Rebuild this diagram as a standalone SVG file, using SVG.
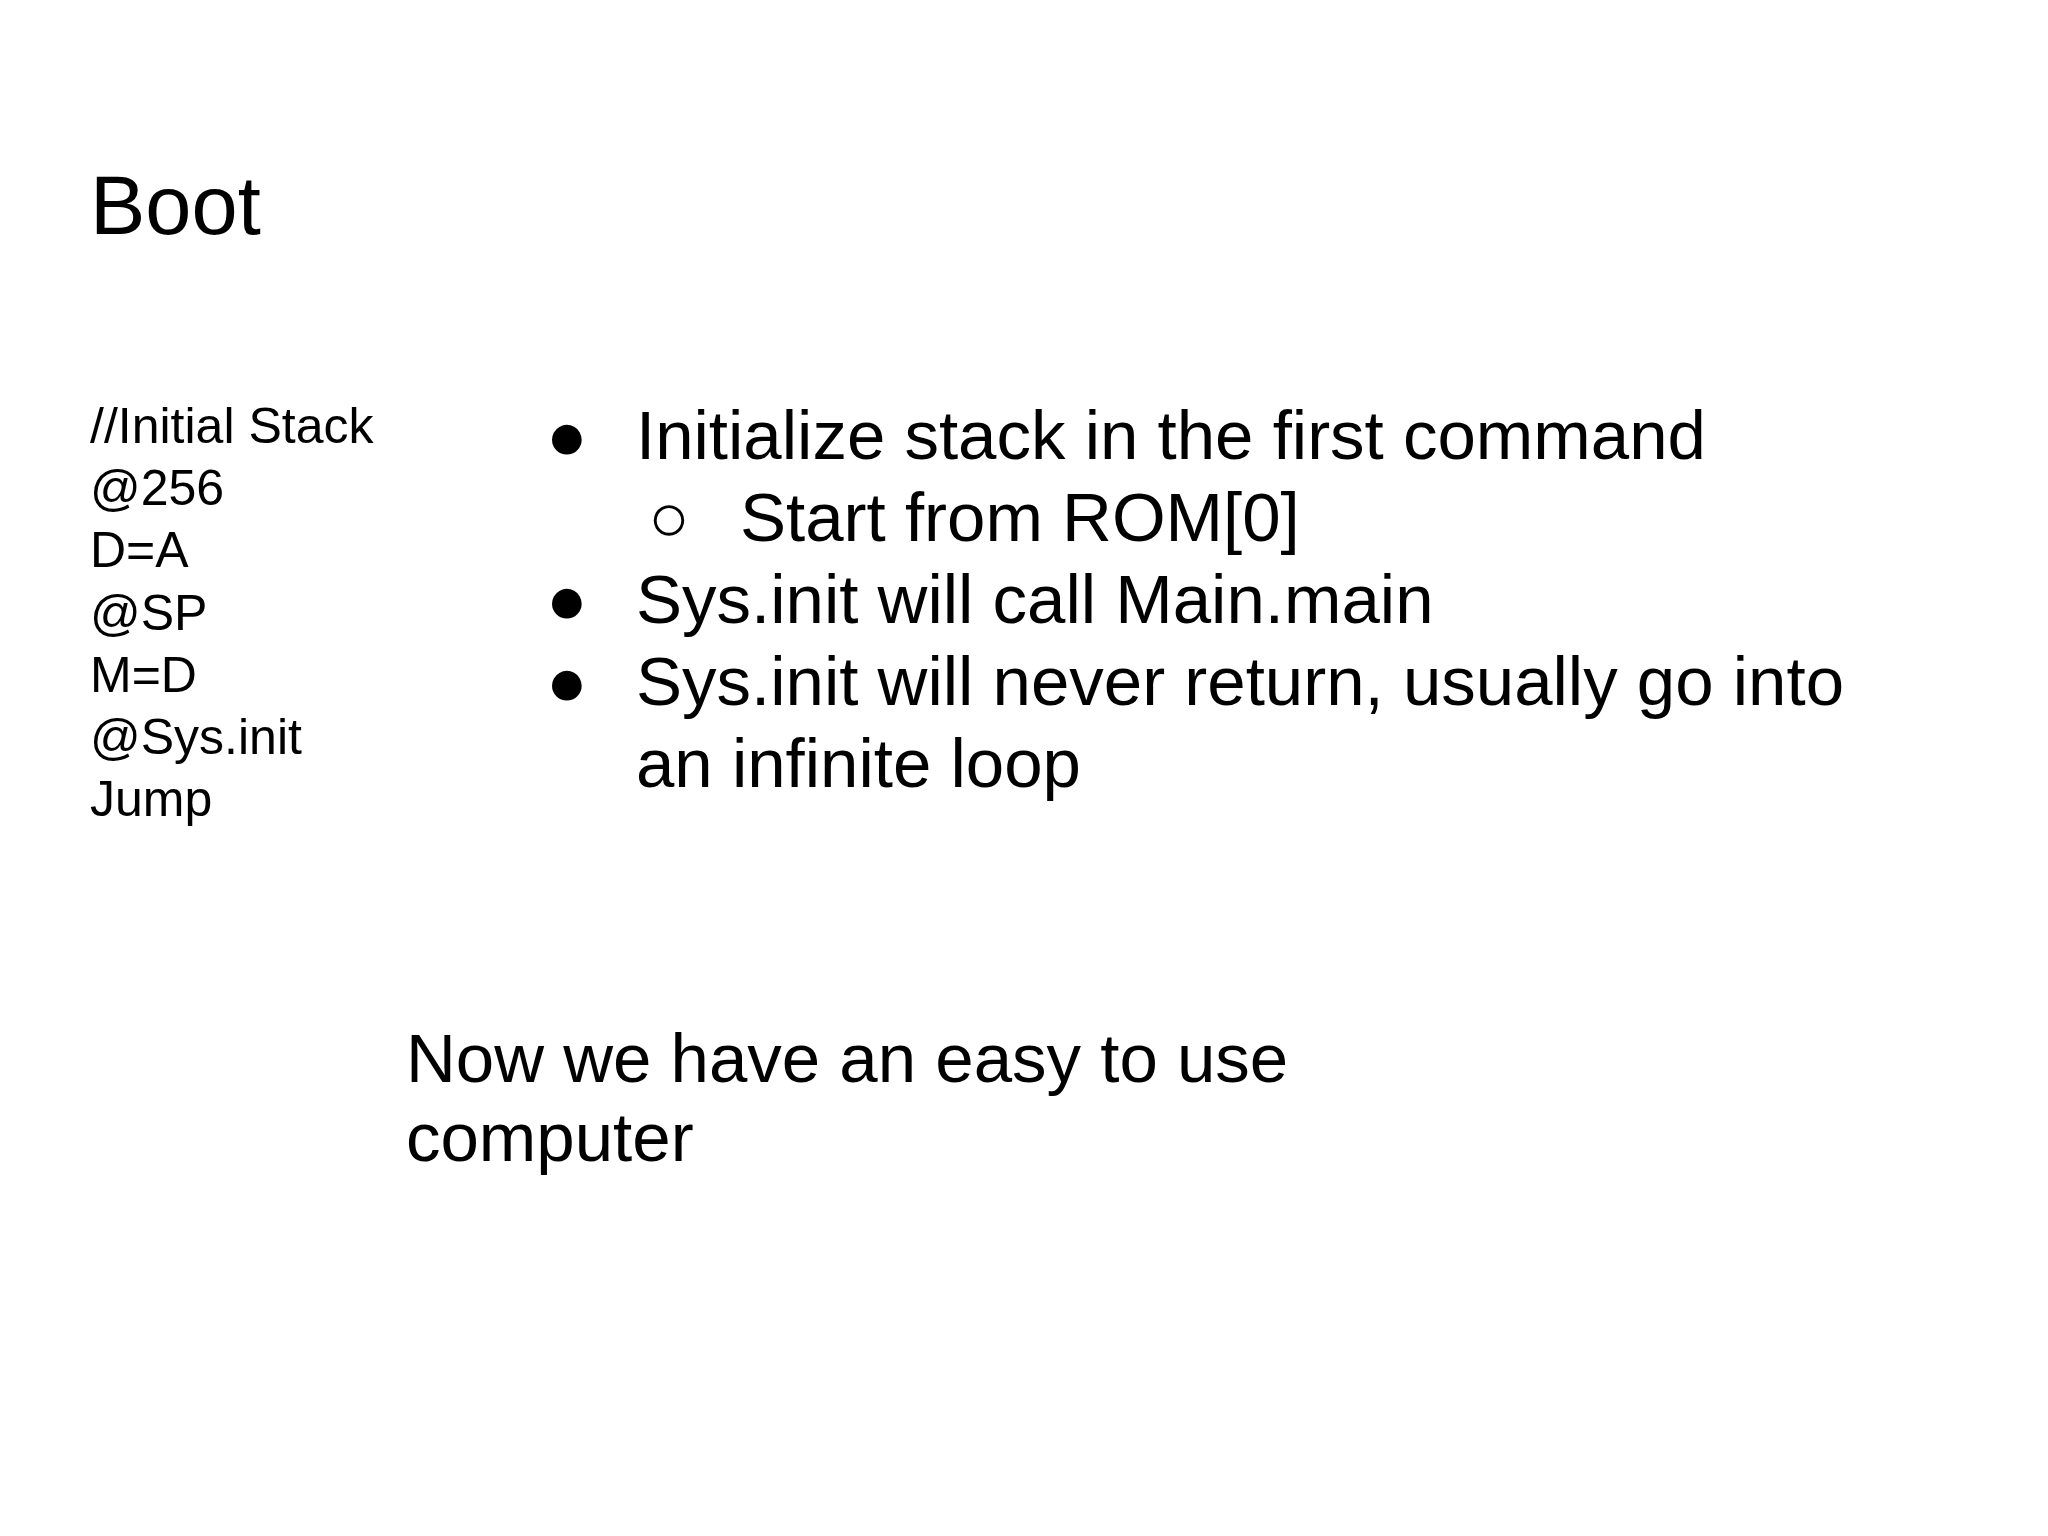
<svg xmlns="http://www.w3.org/2000/svg" width="2048" height="1536" viewBox="0 0 2048 1536">
<style>
text{font-family:"Liberation Sans",Arial,sans-serif;fill:#000}
.c{font-size:50px}
.b{font-size:69px}
</style>
<rect width="2048" height="1536" fill="#fff"/>
<g id="title"><text x="90" y="234" font-size="83">Boot</text></g>
<g id="code" class="c">
<text class="c" x="90" y="443">//Initial Stack</text>
<text class="c" x="90" y="505">@256</text>
<text class="c" x="90" y="567">D=A</text>
<text class="c" x="90" y="630">@SP</text>
<text class="c" x="90" y="692">M=D</text>
<text class="c" x="90" y="754">@Sys.init</text>
<text class="c" x="90" y="816">Jump</text>
</g>
<g id="bullets">
<text class="b" x="546" y="459">●</text>
<text class="b" x="636" y="459">Initialize stack in the first command</text>
<text class="b" x="648" y="541">○</text>
<text class="b" x="740" y="541">Start from ROM[0]</text>
<text class="b" x="546" y="623">●</text>
<text class="b" x="636" y="623">Sys.init will call Main.main</text>
<text class="b" x="546" y="705">●</text>
<text class="b" x="636" y="705">Sys.init will never return, usually go into</text>
<text class="b" x="636" y="787">an infinite loop</text>
</g>
<g id="note">
<text class="b" x="406" y="1082">Now we have an easy to use</text>
<text class="b" x="406" y="1161">computer</text>
</g>
</svg>
